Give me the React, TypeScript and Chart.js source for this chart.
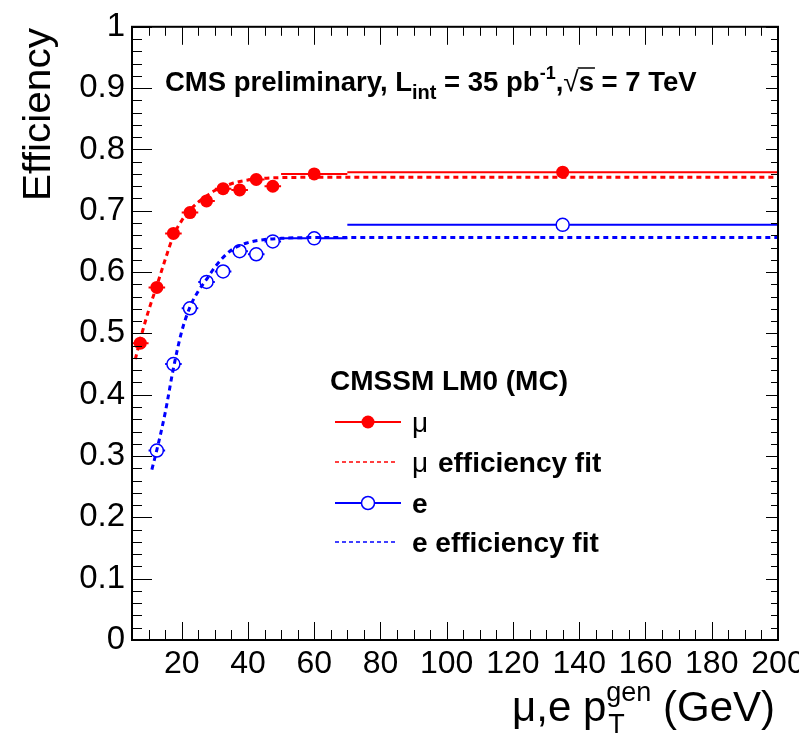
import React, { useEffect, useRef } from "react";
import { Chart, registerables } from "chart.js";

Chart.register(...registerables);

// ---------- data ----------
const X_TICK_VALUES = [20, 40, 60, 80, 100, 120, 140, 160, 180, 200];
const X_TICK_LABELS = ["20", "40", "60", "80", "100", "120", "140", "160", "180", "200"];
const Y_TICK_VALUES = [0, 0.1, 0.2, 0.3, 0.4, 0.5, 0.6, 0.7, 0.8, 0.9, 1];
const Y_TICK_LABELS = ["0", "0.1", "0.2", "0.3", "0.4", "0.5", "0.6", "0.7", "0.8", "0.9", "1"];

// muon efficiency (bin centres, bin edges, efficiency)
const MU_PT = [7.5, 12.5, 17.5, 22.5, 27.5, 32.5, 37.5, 42.5, 47.5, 60, 135];
const MU_LO = [5, 10, 15, 20, 25, 30, 35, 40, 45, 50, 70];
const MU_HI = [10, 15, 20, 25, 30, 35, 40, 45, 50, 70, 200];
const MU_EFF = [0.484, 0.575, 0.663, 0.697, 0.716, 0.736, 0.734, 0.751, 0.740, 0.760, 0.763];

// electron efficiency
const E_PT = [12.5, 17.5, 22.5, 27.5, 32.5, 37.5, 42.5, 47.5, 60, 135];
const E_LO = [10, 15, 20, 25, 30, 35, 40, 45, 50, 70];
const E_HI = [15, 20, 25, 30, 35, 40, 45, 50, 70, 200];
const E_EFF = [0.309, 0.450, 0.541, 0.584, 0.601, 0.634, 0.629, 0.650, 0.655, 0.677];

// fitted curves
const MU_FIT_PT = [6, 8, 10, 12.5, 15, 17.5, 20, 22.5, 25, 27.5, 30, 35, 40, 45, 50, 60, 200];
const MU_FIT_EFF = [0.458, 0.5, 0.537, 0.578, 0.62, 0.659, 0.684, 0.701, 0.714, 0.724, 0.733, 0.744, 0.75, 0.753, 0.754, 0.7546, 0.7546];
const E_FIT_PT = [11, 12.5, 15, 17.5, 20, 22.5, 25, 27.5, 30, 35, 40, 45, 50, 60, 200];
const E_FIT_EFF = [0.278, 0.31, 0.37, 0.443, 0.503, 0.543, 0.569, 0.588, 0.608, 0.636, 0.648, 0.653, 0.655, 0.6563, 0.6565];

const RED = "#ff0000";
const BLUE = "#0000ff";
const FONT = '"Liberation Sans", Arial, Helvetica, sans-serif';

function pts(xs: number[], ys: number[]) {
  return xs.map((x, i) => ({ x, y: ys[i] }));
}
function errBars(lo: number[], hi: number[], ys: number[]) {
  const out: { x: number; y: number | null }[] = [];
  lo.forEach((l, i) => {
    out.push({ x: l, y: ys[i] });
    out.push({ x: hi[i], y: ys[i] });
    out.push({ x: hi[i], y: null });
  });
  return out;
}

const decorPlugin = {
  id: "decor",
  afterDraw(chart: any) {
    const { ctx, chartArea: a, scales } = chart;
    const xs = scales.x;
    const ys = scales.y;
    ctx.save();
    ctx.strokeStyle = "#000";
    ctx.lineWidth = 1;
    const seg = (x1: number, y1: number, x2: number, y2: number) => {
      ctx.beginPath();
      ctx.moveTo(x1, y1);
      ctx.lineTo(x2, y2);
      ctx.stroke();
    };
    // y ticks (left & right)
    for (let i = 0; i <= 50; i++) {
      const py = Math.round(ys.getPixelForValue(i * 0.02)) + 0.5;
      const major = i % 5 === 0;
      seg(a.left, py, a.left + (major ? 20 : 10), py);
      seg(a.right, py, a.right - (major ? 12 : 7), py);
    }
    // x ticks (bottom & top)
    for (let v = 10; v < 200; v += 5) {
      const px = Math.round(xs.getPixelForValue(v)) + 0.5;
      const major = v % 20 === 0;
      seg(px, a.bottom, px, a.bottom - (major ? 18 : 10));
      seg(px, a.top, px, a.top + (major ? 18 : 9));
    }
    // frame
    ctx.lineWidth = 2;
    ctx.strokeRect(a.left, a.top, a.right - a.left, a.bottom - a.top);

    ctx.fillStyle = "#000";
    ctx.textBaseline = "alphabetic";
    ctx.textAlign = "left";

    // y title
    ctx.save();
    ctx.font = `38px ${FONT}`;
    const wEff = ctx.measureText("Efficiency").width;
    ctx.translate(50, 201);
    ctx.rotate(-Math.PI / 2);
    ctx.scale(173 / wEff, 1);
    ctx.fillText("Efficiency", 0, 0);
    ctx.restore();

    // x title: μ,e p_T^gen (GeV)
    {
      const base = 721;
      const big = `42px ${FONT}`;
      const small = `27px ${FONT}`;
      ctx.font = big;
      const w1 = ctx.measureText("\u03bc,e p").width;
      const w3 = ctx.measureText(" (GeV)").width;
      ctx.font = small;
      const w2 = ctx.measureText("gen").width;
      let x = 775 - (w1 + w2 + w3);
      ctx.font = big;
      ctx.fillText("\u03bc,e p", x, base);
      x += w1;
      ctx.font = small;
      ctx.fillText("gen", x, base - 20);
      ctx.fillText("T", x + 2, base + 12);
      x += w2;
      ctx.font = big;
      ctx.fillText(" (GeV)", x, base);
    }

    // CMS label
    {
      let x = 165;
      const base = 91;
      const B = (s: number) => `bold ${s}px ${FONT}`;
      const put = (t: string, font: string, dy = 0) => {
        ctx.font = font;
        ctx.fillText(t, x, base + dy);
        x += ctx.measureText(t).width;
      };
      put("CMS preliminary, L", B(27.5));
      put("int", B(20), 8);
      put(" = 35 pb", B(27.5));
      put("-1", B(18), -12);
      put(",", B(27.5));
      ctx.font = `28px ${FONT}`;
      const wsq = ctx.measureText("\u221a").width;
      ctx.fillText("\u221a", x, base);
      x += wsq;
      ctx.font = B(27.5);
      const ws = ctx.measureText("s").width;
      ctx.fillText("s", x, base);
      ctx.lineWidth = 1.5;
      seg(x - 1, base - 23, x + ws + 1, base - 23);
      x += ws;
      put(" = 7 TeV", B(27.5));
    }

    // legend
    {
      ctx.font = `bold 28px ${FONT}`;
      ctx.fillText("CMSSM LM0 (MC)", 330, 390);
      const rows = [422, 462, 503, 542];
      const tx = 412;
      // mu
      ctx.strokeStyle = RED;
      ctx.lineWidth = 2;
      seg(335, rows[0], 401, rows[0]);
      ctx.fillStyle = RED;
      ctx.beginPath();
      ctx.arc(368, rows[0], 6.5, 0, Math.PI * 2);
      ctx.fill();
      // mu fit
      ctx.setLineDash([4, 3]);
      ctx.lineWidth = 1.5;
      seg(335, rows[1], 398, rows[1]);
      ctx.setLineDash([]);
      // e
      ctx.strokeStyle = BLUE;
      ctx.lineWidth = 2;
      seg(335, rows[2], 401, rows[2]);
      ctx.fillStyle = "#fff";
      ctx.lineWidth = 1.5;
      ctx.beginPath();
      ctx.arc(368, rows[2], 6.5, 0, Math.PI * 2);
      ctx.fill();
      ctx.stroke();
      // e fit
      ctx.setLineDash([4, 3]);
      seg(335, rows[3], 398, rows[3]);
      ctx.setLineDash([]);

      ctx.fillStyle = "#000";
      const mu = (y: number, rest: string) => {
        ctx.font = `28px ${FONT}`;
        ctx.fillText("\u03bc", tx, y + 10);
        const w = ctx.measureText("\u03bc ").width;
        if (rest) {
          ctx.font = `bold 28px ${FONT}`;
          ctx.fillText(rest, tx + w + 2, y + 10);
        }
      };
      mu(rows[0], "");
      mu(rows[1], "efficiency fit");
      ctx.font = `bold 28px ${FONT}`;
      ctx.fillText("e", tx, rows[2] + 10);
      ctx.fillText("e efficiency fit", tx, rows[3] + 10);
    }
    ctx.restore();
  },
};

export default function App() {
  const ref = useRef<HTMLCanvasElement>(null);
  useEffect(() => {
    const canvas = ref.current!;
    const chart = new Chart(canvas, {
      type: "scatter",
      data: {
        datasets: [
          {
            label: "mu fit",
            data: pts(MU_FIT_PT, MU_FIT_EFF),
            showLine: true,
            borderColor: RED,
            borderWidth: 3,
            borderDash: [5, 4],
            pointRadius: 0,
            cubicInterpolationMode: "monotone",
            order: 0,
          },
          {
            label: "e fit",
            data: pts(E_FIT_PT, E_FIT_EFF),
            showLine: true,
            borderColor: BLUE,
            borderWidth: 3,
            borderDash: [5, 4],
            pointRadius: 0,
            cubicInterpolationMode: "monotone",
            order: 0,
          },
          {
            label: "mu",
            data: pts(MU_PT, MU_EFF),
            showLine: false,
            pointRadius: 6.5,
            pointBackgroundColor: RED,
            pointBorderColor: RED,
            pointBorderWidth: 0,
            order: 1,
          },
          {
            label: "e",
            data: pts(E_PT, E_EFF),
            showLine: false,
            pointRadius: 6.5,
            pointBackgroundColor: "#ffffff",
            pointBorderColor: BLUE,
            pointBorderWidth: 1.5,
            order: 1,
          },
          {
            label: "mu err",
            data: errBars(MU_LO, MU_HI, MU_EFF),
            showLine: true,
            spanGaps: false,
            borderColor: RED,
            borderWidth: 2,
            pointRadius: 0,
            order: 2,
          },
          {
            label: "e err",
            data: errBars(E_LO, E_HI, E_EFF),
            showLine: true,
            spanGaps: false,
            borderColor: BLUE,
            borderWidth: 2,
            pointRadius: 0,
            order: 2,
          },
        ],
      },
      options: {
        animation: false,
        responsive: false,
        maintainAspectRatio: false,
        layout: { padding: { top: 22, right: 52, left: 0, bottom: 0 } },
        plugins: { legend: { display: false }, tooltip: { enabled: false } },
        scales: {
          x: {
            type: "linear",
            position: "bottom",
            min: 5,
            max: 200,
            afterBuildTicks: (s: any) => {
              s.ticks = X_TICK_VALUES.map((value) => ({ value }));
            },
            afterFit: (s: any) => {
              s.height = 95;
            },
            grid: { display: false, drawTicks: false },
            border: { display: false },
            ticks: {
              autoSkip: false,
              maxRotation: 0,
              minRotation: 0,
              padding: 5,
              color: "#000",
              font: { family: FONT, size: 32 },
              callback: (_v: any, i: number) => X_TICK_LABELS[i],
            },
          },
          y: {
            type: "linear",
            min: 0,
            max: 1,
            afterBuildTicks: (s: any) => {
              s.ticks = Y_TICK_VALUES.map((value) => ({ value }));
            },
            afterFit: (s: any) => {
              s.width = 132;
            },
            grid: { display: false, drawTicks: false },
            border: { display: false },
            ticks: {
              autoSkip: false,
              padding: 7,
              color: "#000",
              font: { family: FONT, size: 33 },
              callback: (_v: any, i: number) => Y_TICK_LABELS[i],
            },
          },
        },
      },
      plugins: [decorPlugin],
    } as any);
    return () => chart.destroy();
  }, []);
  return (
    <div
      style={{
        position: "fixed",
        left: 0,
        top: 0,
        width: 799,
        height: 735,
        overflow: "hidden",
        background: "#fff",
      }}
    >
      <canvas ref={ref} width={830} height={735} style={{ display: "block", width: 830, height: 735 }} />
    </div>
  );
}
